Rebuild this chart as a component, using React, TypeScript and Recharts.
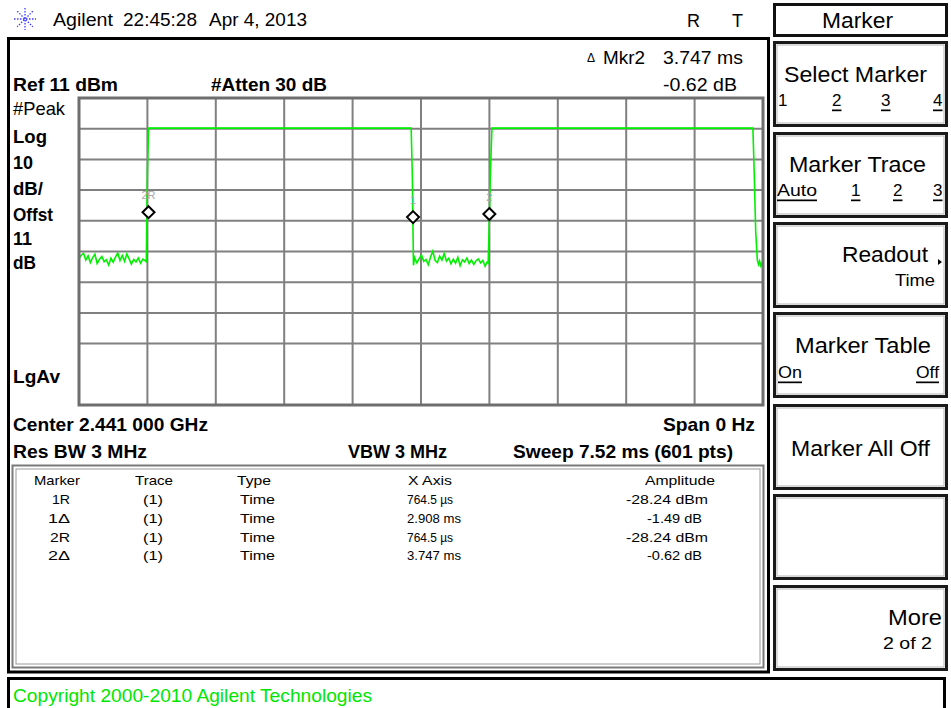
import { ComposedChart, Line, Scatter, XAxis, YAxis, CartesianGrid } from "recharts";

// sweep: 0..7.52 ms, ref 11 dBm, 10 dB/div
const timeTicks = [0, 0.752, 1.504, 2.256, 3.008, 3.76, 4.512, 5.264, 6.016, 6.768, 7.52];
const levelTicks = [11, 1, -9, -19, -29, -39, -49, -59, -69, -79, -89];

// trace 1, [ms, dBm]
const noiseA: [number, number][] = [
  [0.0, -41.3], [0.025, -40.2], [0.05, -39.6], [0.075, -41.8], [0.1, -40.4], [0.125, -42.6],
  [0.15, -41.0], [0.175, -39.9], [0.2, -42.9], [0.226, -41.5], [0.251, -40.6], [0.276, -42.3],
  [0.301, -41.7], [0.326, -43.4], [0.351, -41.2], [0.376, -42.5], [0.401, -40.8], [0.426, -39.5],
  [0.451, -41.9], [0.476, -40.3], [0.501, -42.2], [0.526, -39.8], [0.551, -41.4], [0.576, -43.1],
  [0.602, -41.6], [0.627, -42.4], [0.652, -41.1], [0.677, -42.8], [0.702, -41.5], [0.727, -42.0],
];
const burstA: [number, number][] = [
  [0.74, -42.3], [0.752, -13.4], [0.765, 1.2], [1.5, 1.2], [2.5, 1.2], [3.652, 1.2],
  [3.665, -14.8], [3.677, -43.5],
];
const noiseB: [number, number][] = [
  [3.69, -41.0], [3.715, -42.7], [3.74, -41.3], [3.765, -40.1], [3.79, -42.2], [3.815, -41.6],
  [3.84, -43.3], [3.865, -40.8], [3.89, -38.9], [3.915, -41.9], [3.94, -42.6], [3.965, -40.5],
  [3.99, -41.8], [4.015, -39.7], [4.04, -42.1], [4.065, -41.2], [4.09, -43.0], [4.115, -41.5],
  [4.14, -42.8], [4.165, -40.9], [4.19, -43.6], [4.215, -41.7], [4.24, -42.4], [4.265, -41.1],
  [4.29, -42.9], [4.315, -41.8], [4.34, -43.2], [4.365, -42.0], [4.39, -41.4], [4.415, -42.7],
  [4.44, -41.9], [4.465, -43.8], [4.485, -42.5],
];
const burstB: [number, number][] = [
  [4.498, -42.8], [4.51, -30.2], [4.523, -13.4], [4.54, 1.2], [5.5, 1.2], [6.5, 1.2], [7.409, 1.2],
  [7.421, -10.8], [7.44, -32.6], [7.458, -41.8], [7.471, -43.2], [7.483, -42.1], [7.496, -43.7],
  [7.508, -42.9], [7.52, -43.9],
];

const markerNames = ["2R", "1", "2"];
const markerMs = [0.7645, 3.6725, 4.5115];
const markerDbm = [-26.2, -27.8, -26.8];

const traceRows = [...noiseA, ...burstA, ...noiseB, ...burstB].map(([t, v]) => ({ t, v }));
const markerRows = markerNames.map((name, i) => ({ name, t: markerMs[i], v: markerDbm[i] }));

const FONT = '"Liberation Sans", Arial, sans-serif';

function T({ x, y, w, size = 19, bold = false, fill = "#000", u = false, children }: any) {
  return (
    <text
      x={x}
      y={y}
      textLength={w}
      lengthAdjust={w ? "spacingAndGlyphs" : undefined}
      fontSize={size}
      fontWeight={bold ? 700 : 400}
      fill={fill}
      dominantBaseline="central"
      style={{ textDecoration: u ? "underline" : "none" }}
    >
      {children}
    </text>
  );
}

// marker table cells
function C(props: any) {
  return <T size={13} {...props} />;
}

function MarkerDiamond(props: any) {
  const { cx, cy, payload } = props;
  if (cx == null || cy == null) return null;
  const d = 6;
  return (
    <g>
      <text x={cx} y={cy - 17} fontSize={11} fill="#a8a8a8" textAnchor="middle" dominantBaseline="central" fontFamily={FONT}>
        {payload.name}
      </text>
      <polygon
        points={`${cx},${cy - d} ${cx + d},${cy} ${cx},${cy + d} ${cx - d},${cy}`}
        fill="#fff"
        stroke="#000"
        strokeWidth={2}
      />
    </g>
  );
}

const softTops = [41, 132, 222, 312, 404, 494, 585];

function Frame() {
  const rows = [480, 499, 518, 537, 555];
  return (
    <svg width={951} height={708} style={{ position: "absolute", left: 0, top: 0, pointerEvents: "none" }} fontFamily={FONT}>
      {/* logo */}
      <g stroke="#3b3bff" strokeWidth={1.3} strokeDasharray="1.5 1.5">
        {[0, 45, 90, 135].map((a) => (
          <line
            key={a}
            x1={25 - 11 * Math.cos((a * Math.PI) / 180)}
            y1={19 - 11 * Math.sin((a * Math.PI) / 180)}
            x2={25 + 11 * Math.cos((a * Math.PI) / 180)}
            y2={19 + 11 * Math.sin((a * Math.PI) / 180)}
          />
        ))}
      </g>
      <T x={53} y={19} w={60}>Agilent</T>
      <T x={123} y={19} w={74}>22:45:28</T>
      <T x={209} y={19} w={98}>Apr 4, 2013</T>
      <T x={687} y={20} w={13}>R</T>
      <T x={732} y={20} w={11}>T</T>

      {/* main panel */}
      <rect x={8.5} y={38.5} width={760} height={633.5} fill="none" stroke="#000" strokeWidth={3} />
      <T x={587} y={58} size={12}>Δ</T>
      <T x={603} y={57} w={42}>Mkr2</T>
      <T x={663} y={57} w={80}>3.747 ms</T>
      <T x={663} y={84} w={74}>-0.62 dB</T>
      <T x={13} y={84} w={105} bold>Ref 11 dBm</T>
      <T x={211} y={84} w={116} bold>#Atten 30 dB</T>
      <T x={13} y={108} w={52}>#Peak</T>
      <T x={13} y={136} w={34} bold>Log</T>
      <T x={13} y={162} w={20} bold>10</T>
      <T x={13} y={188} w={30} bold>dB/</T>
      <T x={13} y={214} w={40} bold>Offst</T>
      <T x={13} y={238} w={19} bold>11</T>
      <T x={13} y={262} w={23} bold>dB</T>
      <T x={13} y={376} w={47} bold>LgAv</T>

      <rect x={79} y={98} width={684} height={307} fill="none" stroke="#6e6e6e" strokeWidth={3} />

      <T x={13} y={424} w={195} bold>Center 2.441 000 GHz</T>
      <T x={663} y={424} w={92} bold>Span 0 Hz</T>
      <T x={13} y={451} w={134} bold>Res BW 3 MHz</T>
      <T x={348} y={451} w={99} bold>VBW 3 MHz</T>
      <T x={513} y={451} w={220} bold>Sweep 7.52 ms (601 pts)</T>

      {/* marker table */}
      <rect x={12.5} y={465.5} width={751} height={202} fill="none" stroke="#7a7a7a" strokeWidth={2} />
      <rect x={16} y={469} width={744} height={195} fill="none" stroke="#9a9a9a" strokeWidth={1} />
      <C x={34} y={rows[0]} w={46}>Marker</C>
      <C x={135} y={rows[0]} w={38}>Trace</C>
      <C x={237} y={rows[0]} w={34}>Type</C>
      <C x={408} y={rows[0]} w={44}>X Axis</C>
      <C x={645} y={rows[0]} w={70}>Amplitude</C>

      <C x={52} y={rows[1]} w={18}>1R</C>
      <C x={48} y={rows[2]} w={22}>1Δ</C>
      <C x={50} y={rows[3]} w={20}>2R</C>
      <C x={48} y={rows[4]} w={22}>2Δ</C>
      {rows.slice(1).map((ry) => (
        <g key={ry}>
          <C x={143} y={ry} w={20}>(1)</C>
          <C x={240} y={ry} w={35}>Time</C>
        </g>
      ))}
      <C x={407} y={rows[1]} w={46}>764.5 µs</C>
      <C x={407} y={rows[2]} w={54}>2.908 ms</C>
      <C x={407} y={rows[3]} w={46}>764.5 µs</C>
      <C x={407} y={rows[4]} w={54}>3.747 ms</C>
      <C x={626} y={rows[1]} w={82}>-28.24 dBm</C>
      <C x={647} y={rows[2]} w={55}>-1.49 dB</C>
      <C x={626} y={rows[3]} w={82}>-28.24 dBm</C>
      <C x={647} y={rows[4]} w={55}>-0.62 dB</C>

      {/* copyright */}
      <rect x={8.5} y={678.5} width={936} height={40} fill="none" stroke="#000" strokeWidth={3} />
      <T x={13} y={695} w={359} size={18.5} fill="#00e600">Copyright 2000-2010 Agilent Technologies</T>

      {/* softkeys */}
      <rect x={774.5} y={4.5} width={172} height={31} fill="none" stroke="#111" strokeWidth={3} />
      <T x={822} y={20} w={71} size={22}>Marker</T>
      {softTops.map((top) => (
        <g key={top}>
          <rect x={774.5} y={top + 1.5} width={172} height={83} fill="none" stroke="#1a1a1a" strokeWidth={3} />
          <rect x={777} y={top + 4} width={167} height={78} fill="none" stroke="#b5b5b5" strokeWidth={1} />
        </g>
      ))}
      <T x={784} y={74} w={143} size={22}>Select Marker</T>
      <T x={778} y={100} size={17}>1</T>
      <T x={832} y={100} size={17} u>2</T>
      <T x={881} y={100} size={17} u>3</T>
      <T x={933} y={100} size={17} u>4</T>

      <T x={789} y={164} w={137} size={22}>Marker Trace</T>
      <T x={777} y={190} w={40} size={17} u>Auto</T>
      <T x={851} y={190} size={17} u>1</T>
      <T x={893} y={190} size={17} u>2</T>
      <T x={933} y={190} size={17} u>3</T>

      <T x={842} y={254} w={86} size={22}>Readout</T>
      <polygon points="938,259 942,262 938,265" fill="#000" />
      <T x={895} y={280} w={40} size={17}>Time</T>

      <T x={795} y={345} w={136} size={22}>Marker Table</T>
      <T x={778} y={372} w={24} size={17} u>On</T>
      <T x={916} y={372} w={23} size={17} u>Off</T>

      <T x={791} y={448} w={139} size={22}>Marker All Off</T>

      <T x={888} y={617} w={54} size={22}>More</T>
      <T x={883} y={643} w={49} size={17}>2 of 2</T>
    </svg>
  );
}

export default function App() {
  return (
    <div style={{ position: "absolute", left: 0, top: 0, width: 951, height: 708, background: "#fff", overflow: "hidden" }}>
      <div style={{ position: "absolute", left: 79, top: 98 }}>
        <ComposedChart width={684} height={307} data={traceRows} margin={{ top: 0, right: 0, bottom: 0, left: 0 }}>
          <CartesianGrid stroke="#808080" strokeWidth={2} />
          <XAxis dataKey="t" type="number" domain={[0, 7.52]} ticks={timeTicks} allowDataOverflow hide />
          <YAxis type="number" domain={[-89, 11]} ticks={levelTicks} allowDataOverflow hide />
          <Line dataKey="v" type="linear" stroke="#00f000" strokeWidth={1.6} dot={false} isAnimationActive={false} />
          <Scatter data={markerRows} dataKey="v" shape={<MarkerDiamond />} isAnimationActive={false} />
        </ComposedChart>
      </div>
      <Frame />
    </div>
  );
}
